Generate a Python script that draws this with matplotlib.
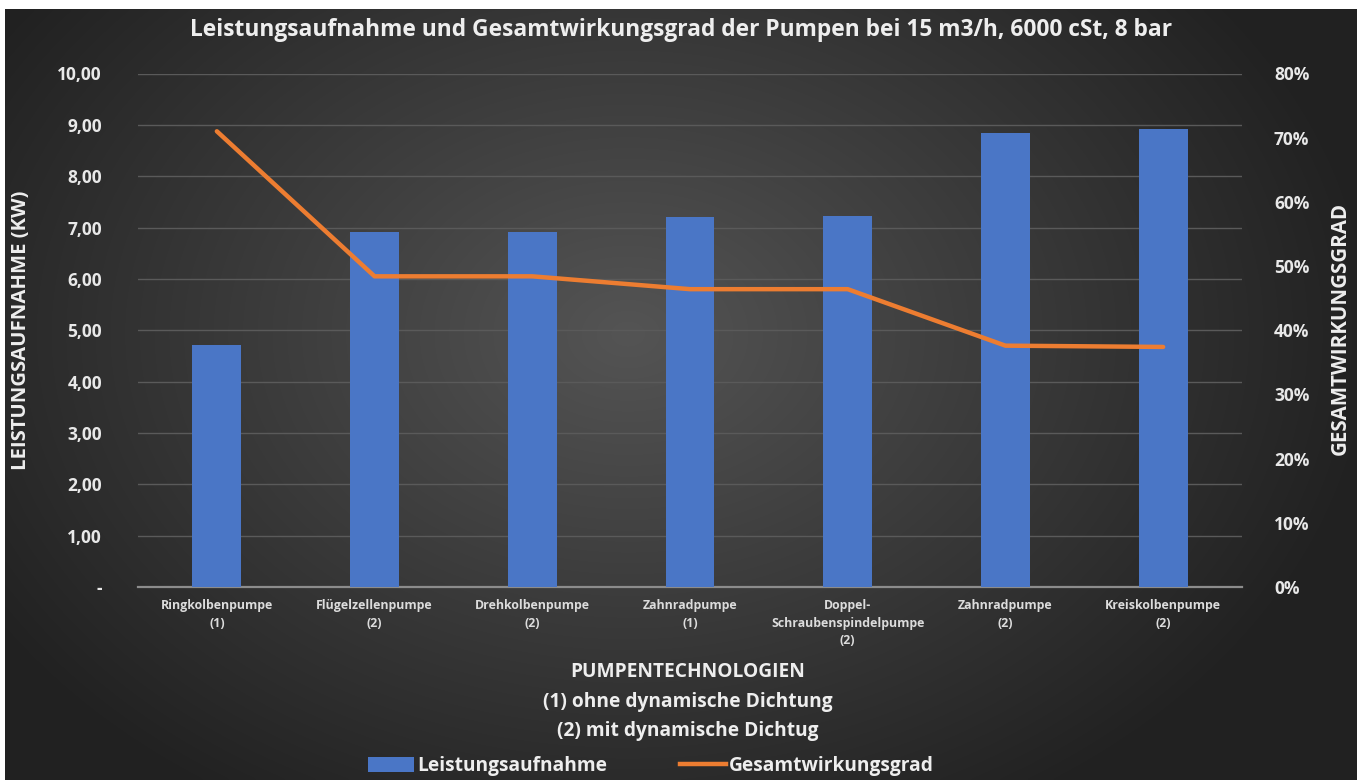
import numpy as np
import matplotlib
matplotlib.use("Agg")
import matplotlib.pyplot as plt
from matplotlib.lines import Line2D
from matplotlib.patches import Patch

# ---- data ----
categories = ["Ringkolbenpumpe\n(1)", "Flügelzellenpumpe\n(2)", "Drehkolbenpumpe\n(2)",
              "Zahnradpumpe\n(1)", "Doppel-\nSchraubenspindelpumpe\n(2)",
              "Zahnradpumpe\n(2)", "Kreiskolbenpumpe\n(2)"]
leistung_kw = [4.72, 6.91, 6.91, 7.20, 7.22, 8.85, 8.91]
wirkungsgrad = [0.710, 0.484, 0.484, 0.464, 0.464, 0.376, 0.374]
left_ticks = [0, 1, 2, 3, 4, 5, 6, 7, 8, 9, 10]
left_ticklabels = ["-", "1,00", "2,00", "3,00", "4,00", "5,00", "6,00", "7,00", "8,00", "9,00", "10,00"]
right_ticks = [0, 0.1, 0.2, 0.3, 0.4, 0.5, 0.6, 0.7, 0.8]
right_ticklabels = ["0%", "10%", "20%", "30%", "40%", "50%", "60%", "70%", "80%"]

title = "Leistungsaufnahme und Gesamtwirkungsgrad der Pumpen bei 15 m3/h, 6000 cSt, 8 bar"
xlabel_lines = ["PUMPENTECHNOLOGIEN", "(1) ohne dynamische Dichtung", "(2) mit dynamische Dichtug"]

FONT = ["Open Sans", "DejaVu Sans"]
plt.rcParams['font.family'] = FONT

W, H = 1357, 780
fig = plt.figure(figsize=(W / 100, H / 100), dpi=100, facecolor="white")

# background radial gradient (panel starts a few px in from top/left)
bg = fig.add_axes([5 / W, 0, 1 - 5 / W, 1 - 9 / H])
bg.set_axis_off()
yy, xx = np.mgrid[0:300, 0:520]
cx, cy = 520 * 0.46, 300 * 0.42
d = np.sqrt(((xx - cx) / 520) ** 2 + ((yy - cy) / 300) ** 2 * 0.6)
v = np.clip(0.33 - 0.36 * d, 0.13, 0.34)
img = np.dstack([v, v, v])
bg.imshow(img, aspect="auto", extent=[0, 1, 0, 1], interpolation="bicubic")
bg.set_xlim(0, 1); bg.set_ylim(0, 1)

L, R = 138 / W, 1242 / W
B, T = 1 - 587 / H, 1 - 73.5 / H
ax = fig.add_axes([L, B, R - L, T - B])
ax.patch.set_alpha(0)
x = np.arange(len(categories))
ax.bar(x, leistung_kw, width=0.31, color="#4a76c6", zorder=3)
ax.set_ylim(0, 10)
ax.set_xlim(-0.5, len(categories) - 0.5)
ax.set_yticks(left_ticks)
ax.set_yticklabels(left_ticklabels, fontweight="bold")
ax.yaxis.grid(True, color="#5a5a5a", linewidth=1.0, zorder=0)
ax.set_axisbelow(True)
for s in ["top", "right", "left"]:
    ax.spines[s].set_visible(False)
ax.spines["bottom"].set_color("#8c8c8c")
ax.spines["bottom"].set_linewidth(1.6)
ax.tick_params(axis="y", length=0, pad=26, labelsize=12.5, labelcolor="#e8e8e8")
ax.tick_params(axis="x", length=0, pad=9, labelsize=8.9, labelcolor="#dcdcdc")
ax.set_xticks(x)
ax.set_xticklabels(categories, fontweight="bold", linespacing=1.45)

ax2 = ax.twinx()
ax2.plot(x, wirkungsgrad, color="#ed7d31", linewidth=3.2, zorder=4, solid_capstyle="round")
ax2.set_ylim(0, 0.8)
ax2.set_yticks(right_ticks)
ax2.set_yticklabels(right_ticklabels, fontweight="bold")
for s in ax2.spines.values():
    s.set_visible(False)
ax2.tick_params(axis="y", length=0, pad=23, labelsize=12.5, labelcolor="#e8e8e8")

fig.text(681 / W, 1 - 30 / H, title, ha="center", va="center", color="#eeeeee",
         fontsize=16.4, fontweight="bold")

fig.text(21 / W, 1 - 330 / H, "LEISTUNGSAUFNAHME (KW)", rotation=90, ha="center", va="center",
         color="#eeeeee", fontsize=14.6, fontweight="bold")
fig.text(1340 / W, 1 - 328 / H, "GESAMTWIRKUNGSGRAD", rotation=90, ha="center", va="center",
         color="#eeeeee", fontsize=14.8, fontweight="bold")

for i, line in enumerate(xlabel_lines):
    fig.text(688 / W, 1 - (672 + 29.5 * i) / H, line, ha="center", va="center",
             color="#eeeeee", fontsize=13.8, fontweight="bold")

handles = [Patch(facecolor="#4a76c6", edgecolor="none"),
           Line2D([0], [0], color="#ed7d31", linewidth=3.2)]
leg = fig.legend(handles, ["Leistungsaufnahme", "Gesamtwirkungsgrad"], loc="center",
                 bbox_to_anchor=(651 / W, 1 - 766 / H), ncol=2, frameon=False,
                 labelcolor="#eeeeee", handlelength=2.4, handleheight=0.8,
                 handletextpad=0.15, columnspacing=3.8, prop={"weight": "bold", "size": 13.8})

fig.savefig("out.png", dpi=100, facecolor="white")
